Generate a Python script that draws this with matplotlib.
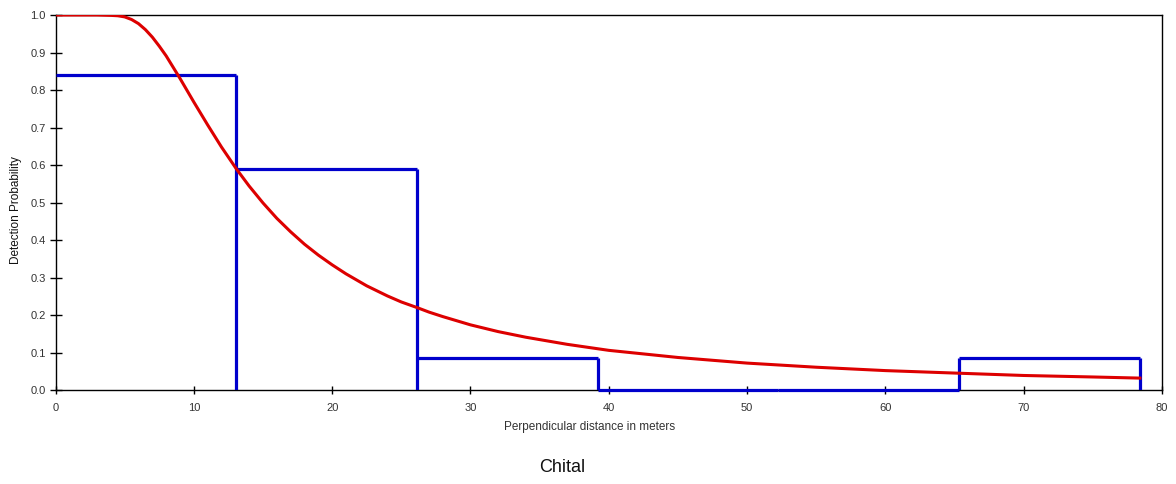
import matplotlib.pyplot as plt
import numpy as np

plt.rcParams['font.family'] = ['Liberation Sans', 'DejaVu Sans']

# histogram of detections (bin edges and scaled heights)
bin_edges = [0.0, 13.07, 26.14, 39.2, 52.27, 65.34, 78.4]
bin_height = [0.84, 0.59, 0.085, 0.0, 0.0, 0.085]

# fitted detection function
curve_x = [0, 2, 3, 4, 4.5, 5, 5.5, 6, 6.5, 7, 7.5, 8, 8.5, 9, 10, 11, 12, 13.07,
           14, 15, 16, 17, 18, 19, 20, 21, 22.5, 24, 25, 26.14, 27, 28, 29, 30, 32,
           34, 37, 40, 45, 50, 55, 60, 65.34, 70, 75, 78.4]
curve_y = [1.0, 1.0, 1.0, 0.999, 0.998, 0.995, 0.988, 0.977, 0.961, 0.941, 0.917,
           0.891, 0.861, 0.831, 0.768, 0.707, 0.648, 0.59, 0.544, 0.499, 0.458,
           0.422, 0.389, 0.36, 0.334, 0.31, 0.278, 0.251, 0.235, 0.22, 0.208,
           0.196, 0.185, 0.174, 0.156, 0.141, 0.122, 0.106, 0.087, 0.072, 0.061,
           0.052, 0.045, 0.039, 0.035, 0.032]

fig = plt.figure(figsize=(11.76, 4.84), dpi=100)
ax = fig.add_axes([0.0472, 0.194, 0.9409, 0.775])

blue = '#0000CC'
# tops of the bars (zero bars lie on the axis)
ax.hlines(bin_height, bin_edges[:-1], bin_edges[1:], colors=blue,
          linewidth=2.3, zorder=4, clip_on=False)
# vertical edges down to the axis
tops = [max(bin_height[i - 1], bin_height[i] if i < len(bin_height) else 0)
        for i in range(1, len(bin_edges))]
ax.vlines(bin_edges[1:], 0, tops, colors=blue, linewidth=2.3, zorder=4)

ax.plot(curve_x, curve_y, color='#DD0000', linewidth=2.2, zorder=5)

ax.set_xlim(0, 80)
ax.set_ylim(0, 1.0)
ax.set_xticks(np.arange(0, 81, 10))
ax.set_yticks(np.arange(0, 1.01, 0.1))
ax.set_yticklabels(['%.1f' % v for v in np.arange(0, 1.01, 0.1)])
ax.tick_params(axis='y', direction='inout', length=8, width=1, labelsize=8,
               labelcolor='#333333', pad=3)
ax.tick_params(axis='x', direction='inout', length=6, width=1, labelsize=8,
               labelcolor='#333333', pad=6)
for s in ax.spines.values():
    s.set_linewidth(1)
    s.set_color('black')
    s.set_zorder(3)

fig.text(590 / 1176, 1 - 427 / 484, 'Perpendicular distance in meters',
         ha='center', va='center', fontsize=8.5, color='#333333')
fig.text(16 / 1176, 1 - 210 / 484, 'Detection Probability', rotation=90,
         ha='center', va='center', fontsize=8.5, color='#111111')
fig.text(562 / 1176, 1 - 468 / 484, 'Chital', ha='center', va='center',
         fontsize=13, color='#111111')

fig.savefig('out.png', dpi=100)
